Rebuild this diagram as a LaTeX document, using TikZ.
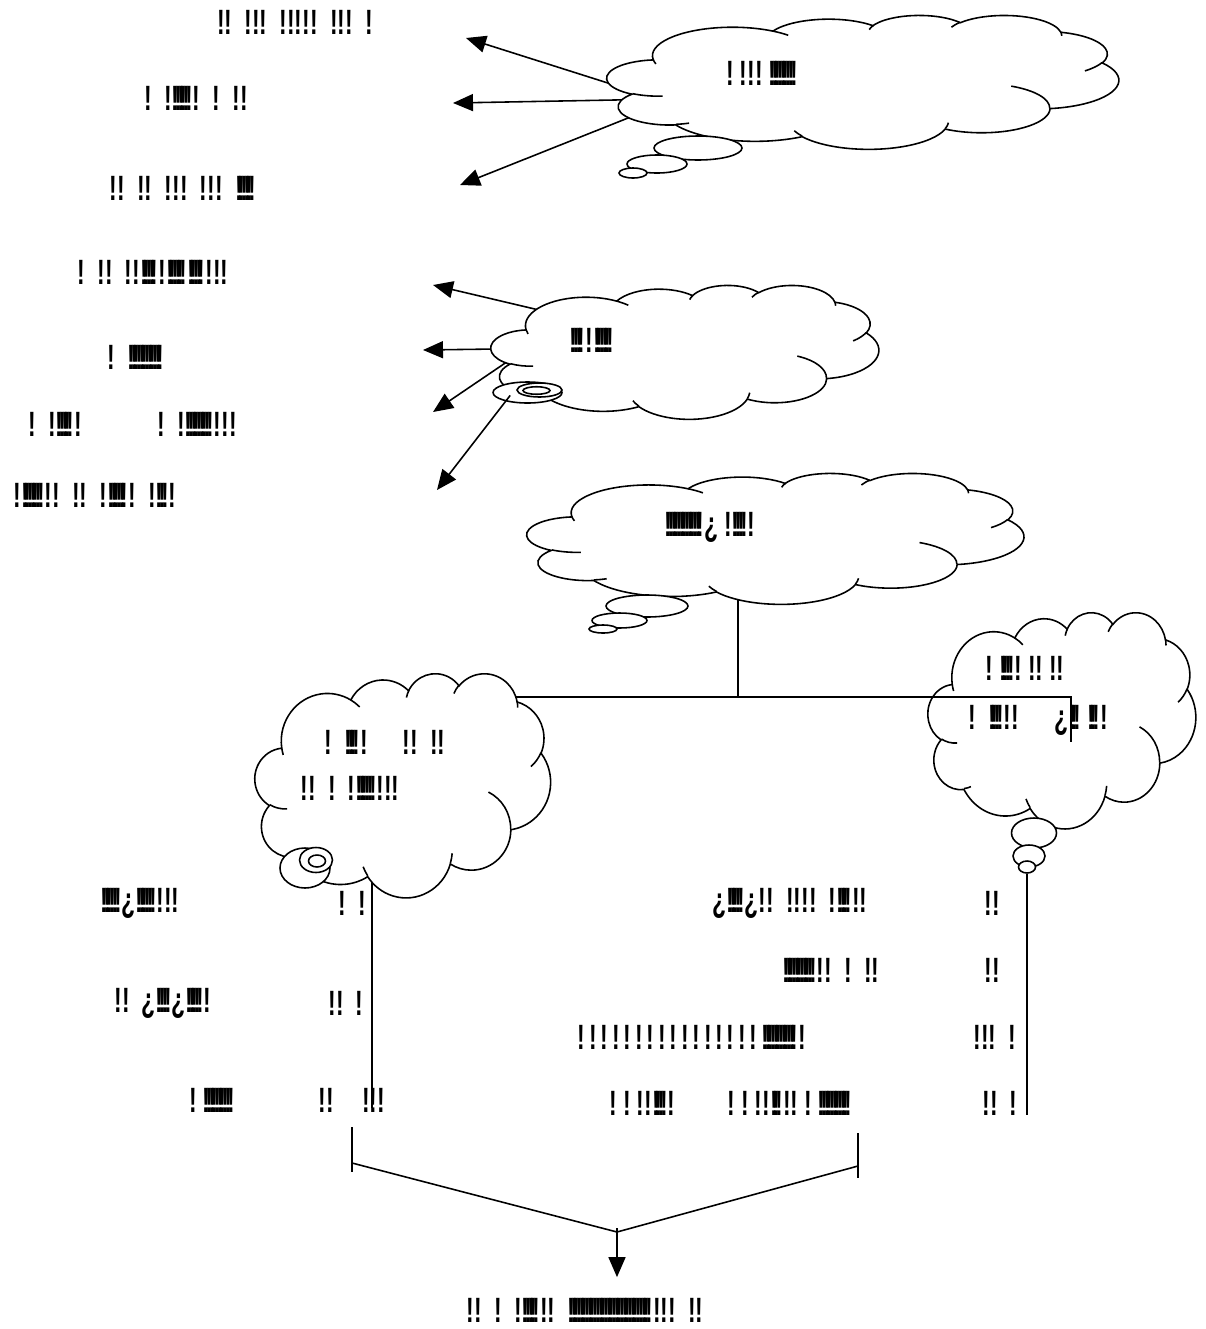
\documentclass[tikz,border=0pt]{standalone}
\usepackage{fontspec}
\setmainfont[FakeStretch=0.65, WordSpace=1.6]{Liberation Sans}
\usetikzlibrary{positioning,arrows.meta,shapes.geometric}

% merged marks, as the picture prints them
\newcommand\ink[1]{\foreach \k in {1,...,#1}{!\kern-0.14em}\kern0.14em}

% one puff of the cloud outline (radii, start and sweep as seen on the page)
\newcommand\puff[4]{arc[x radius=#1, y radius=#2,
  start angle={atan2(#1*sin(#3),#2*cos(#3))},
  delta angle={mod(atan2(#1*sin(#3+#4),#2*cos(#3+#4))-atan2(#1*sin(#3),#2*cos(#3))+720,360)}]}

% cloud in the box x0, y0, width, height (pixels)
\newcommand\cloudbox[4]{%
  \pgfmathsetmacro\cux{#3*0.0002}%
  \pgfmathsetmacro\cuy{-#4*0.0002}%
  \begin{scope}[shift={(#1,#2)}, x=\cux cm, y=\cuy cm]
    \filldraw[fill=white] (9.028,33.264)
      \puff{15.632}{21.273}{-190.4875}{123.7805}
      \puff{12.345}{16.822}{-144.1024}{89.9452}
      \puff{10.104}{13.762}{-145.8079}{99.7230}
      \puff{11.243}{15.266}{-130.9861}{117.2417}
      \puff{12.345}{16.836}{-78.7089}{109.0269}
      \puff{15.683}{21.343}{-46.2673}{130.2690}
      \puff{13.391}{18.211}{0.6250}{114.0333}
      \puff{15.630}{21.331}{22.4516}{115.1726}
      \puff{17.870}{24.405}{66.2426}{75.7110}
      \puff{10.093}{13.699}{-274.9421}{146.7356}
      \puff{10.058}{13.762}{-246.8285}{152.5189} -- cycle;
    \draw (10.863,60.595) \puff{10.058}{13.762}{86.742}{26.430}
      (16.037,80.785) \puff{10.093}{13.699}{73.610}{11.447}
      (38.144,90.486) \puff{15.630}{21.331}{137.624}{14.081}
      (66.729,80.442) \puff{15.630}{21.331}{6.453}{15.998}
      (79.002,53.134) \puff{13.391}{18.211}{-70.292}{70.917}
      (96.755,35.542) \puff{12.345}{16.836}{30.318}{27.752}
      (88.713,12.560) \puff{11.243}{15.266}{-13.744}{14.859}
      (67.310,9.148) \puff{11.243}{15.266}{-149.181}{18.195}
      (51.252,10.926) \puff{10.104}{13.762}{-163.494}{17.686}
      (32.407,12.019) \puff{15.632}{21.273}{-66.707}{12.319}
      (9.553,36.549) \puff{15.632}{21.273}{157.654}{11.858};
  \end{scope}}

\tikzset{
  hull/.style={ellipse, inner sep=0pt},
  bubble/.style={ellipse, draw, fill=white, inner sep=0pt},
  txt/.style={font=\bfseries\fontsize{20}{24}\selectfont, inner sep=0pt},
  pointer/.style={-{Triangle[length=0.4cm,width=0.34cm]}},
}

\begin{document}
\begin{tikzpicture}[x=0.02cm, y=-0.02cm, line width=0.9pt]
    \useasboundingbox (0,0) rectangle (1205,1329);

    % where the clouds sit
    \node[hull, minimum width=10.32cm, minimum height=2.7cm] (top) at (865,82.5) {};
    \node[hull, minimum width=7.82cm, minimum height=2.7cm] (mid) at (686.5,352.5) {};
    \node[hull, minimum width=10.02cm, minimum height=2.64cm] (core) at (777.5,539) {};
    \node[hull, minimum width=5.96cm, minimum height=4.52cm] (left) at (404,786) {};
    \node[hull, minimum width=5.4cm, minimum height=4.36cm] (right) at (1063,721) {};

    \coordinate (t1) at (466,38);
    \coordinate (t2) at (453,103);
    \coordinate (t3) at (460,185);
    \coordinate (m1) at (433,285);
    \coordinate (m2) at (423,350);
    \coordinate (m3) at (433,412);
    \coordinate (m4) at (437,490);
    \coordinate (hub) at (738,697);
    \coordinate (rtip) at (1071,742);
    \coordinate (lend) at (372,1108);
    \coordinate (rend) at (1027,1115);

    % connectors that start under a cloud
    \draw[pointer, shorten <=-0.3cm] (top.180) -- (t1);
    \draw[pointer, shorten <=-0.3cm] (top.184.8) -- (t2);
    \draw[pointer, shorten <=-0.3cm] (top.188.5) -- (t3);
    \draw[pointer, shorten <=-0.3cm] (mid.164.7) -- (m1);
    \draw[pointer, shorten <=-0.3cm] (mid.179.3) -- (m2);
    \draw[pointer, shorten <=-0.4cm] (mid.185.7) -- (m3);
    \draw (core.center -| hub) -- (hub);
    \draw (left.center |- hub) -- (hub);
    \draw (left.center -| lend) -- (lend);

    % clouds
    \cloudbox{607}{15}{516}{135}
    \cloudbox{491}{285}{391}{135}
    \cloudbox{527}{473}{501}{132}
    \cloudbox{255}{673}{298}{226}
    \cloudbox{928}{612}{270}{218}

    % their bubbles
    \node[bubble, minimum width=1.76cm, minimum height=0.48cm] (tb1) at (698,148) {};
    \node[bubble, minimum width=1.2cm, minimum height=0.36cm] (tb2) at (657,164) {};
    \node[bubble, minimum width=0.56cm, minimum height=0.2cm] (tb3) at (633,173) {};

    \node[bubble, minimum width=1.38cm, minimum height=0.42cm] (ring1) at (527.5,392.5) {};
    \node[bubble, minimum width=0.9cm, minimum height=0.28cm] (ring2) at (539.5,390) {};
    \node[bubble, minimum width=0.54cm, minimum height=0.15cm] (ring3) at (536.5,390.5) {};
    \draw[pointer, shorten <=-0.15cm] (ring1.202) -- (m4);

    \node[bubble, minimum width=1.64cm, minimum height=0.44cm] (cb1) at (647,606) {};
    \node[bubble, minimum width=1.1cm, minimum height=0.3cm] (cb2) at (619.5,620.5) {};
    \node[bubble, minimum width=0.56cm, minimum height=0.16cm] (cb3) at (603,629) {};

    \node[bubble, minimum width=1.0cm, minimum height=0.8cm] (lr1) at (305,868) {};
    \node[bubble, minimum width=0.66cm, minimum height=0.5cm] (lr2) at (316,860) {};
    \node[bubble, minimum width=0.34cm, minimum height=0.24cm] (lr3) at (317,861) {};

    \node[bubble, minimum width=0.9cm, minimum height=0.6cm] (rb1) at (1034,833) {};
    \node[bubble, minimum width=0.64cm, minimum height=0.44cm] (rb2) at (1029,856) {};
    \node[bubble, minimum width=0.34cm, minimum height=0.24cm] (rb3) at (1027,867) {};

    % connectors drawn over the clouds
    \draw (hub) -| (rtip);
    \draw (rb3.south) -- (rend);

    % texts in the clouds
    \node[txt] (topt) at (762,73) {!\,!!!\,\ink{9}};
    \node[txt] (midt) at (592,340) {\ink{4}!\ink{6}};
    \node[txt] (coret) at (710,527) {\ink{13}¿\,!\ink{4}!};
    \node[txt] (leftt1) at (385,742) {! \ink{4}!\hspace{1em}!! !!};
    \node[txt] (leftt2) at (350,788) {!! ! !\ink{6}!!!};
    \node[txt] (rightt1) at (1025,668) {!\,\ink{4}!\,!!\,!!};
    \node[txt] (rightt2) at (1038,720) {! \ink{4}!!\hspace{1em}¿\ink{3}\,\ink{3}!};

    % left column
    \node[txt] (n1) at (295,22) {!! !!! !!!!! !!! !};
    \node[txt] (n2) at (196,98) {! !\ink{6}! ! !!};
    \node[txt] (n3) at (183,188) {!! !! !!! !!! \ink{6}};
    \node[txt] (n4) at (153,272) {! !! !!\ink{5} !\ink{6} \ink{5}!!!};
    \node[txt] (n5) at (136,357) {! \ink{12}};
    \node[txt] (n6) at (55,424) {! !\ink{5}!};
    \node[txt] (n7) at (197,424) {! !\ink{9}!!!};
    \node[txt] (n8) at (95,495) {!\ink{7} !! !! !\ink{6}! !\ink{3}!};

    % lower rows
    \node[txt] (a1) at (140,903) {\ink{6}¿\ink{6}!!!};
    \node[txt] (a2) at (352,903) {! !};
    \node[txt] (a3) at (163,1003) {!! ¿\ink{4}¿\ink{5} !};
    \node[txt] (a4) at (346,1003) {!! !};
    \node[txt] (a5) at (212,1100) {!\,\ink{10}};
    \node[txt] (a6) at (352,1100) {!!\hspace{0.8em}!!!};

    \node[txt] (b1) at (790,903) {¿\ink{5}¿!! !!!! !\ink{4}!!};
    \node[txt] (b2) at (992,903) {!!};
    \node[txt] (b3) at (831,970) {\ink{11}!! ! !!};
    \node[txt] (b4) at (992,970) {!!};
    \node[txt] (b5) at (692,1037) {\foreach \k in {1,...,16}{!\kern2.2pt}\ink{12}!};
    \node[txt] (b6) at (995,1037) {!!! !};
    \node[txt] (b7) at (731,1103) {!\,!\,!!\ink{4}!\hspace{1.5em}!\,!\,!!\ink{3}!!\,!\,\ink{11}};
    \node[txt] (b8) at (1000,1103) {!! !};

    \node[txt] (goal) at (585,1310) {!! ! !\ink{5}!! \ink{30}!!! !!};

    % bracket to the goal
    \coordinate (bl) at (352,1163);
    \coordinate (br) at (858,1166);
    \coordinate (apex) at (617,1232);
    \draw (bl) ++(0,-36) -- ++(0,45);
    \draw (br) ++(0,-33) -- ++(0,45);
    \draw (bl) -- (apex) -- (br);
    \draw[pointer, shorten >=0.4cm] (apex) ++(0,-4) -- (apex |- goal.north);
\end{tikzpicture}
\end{document}
